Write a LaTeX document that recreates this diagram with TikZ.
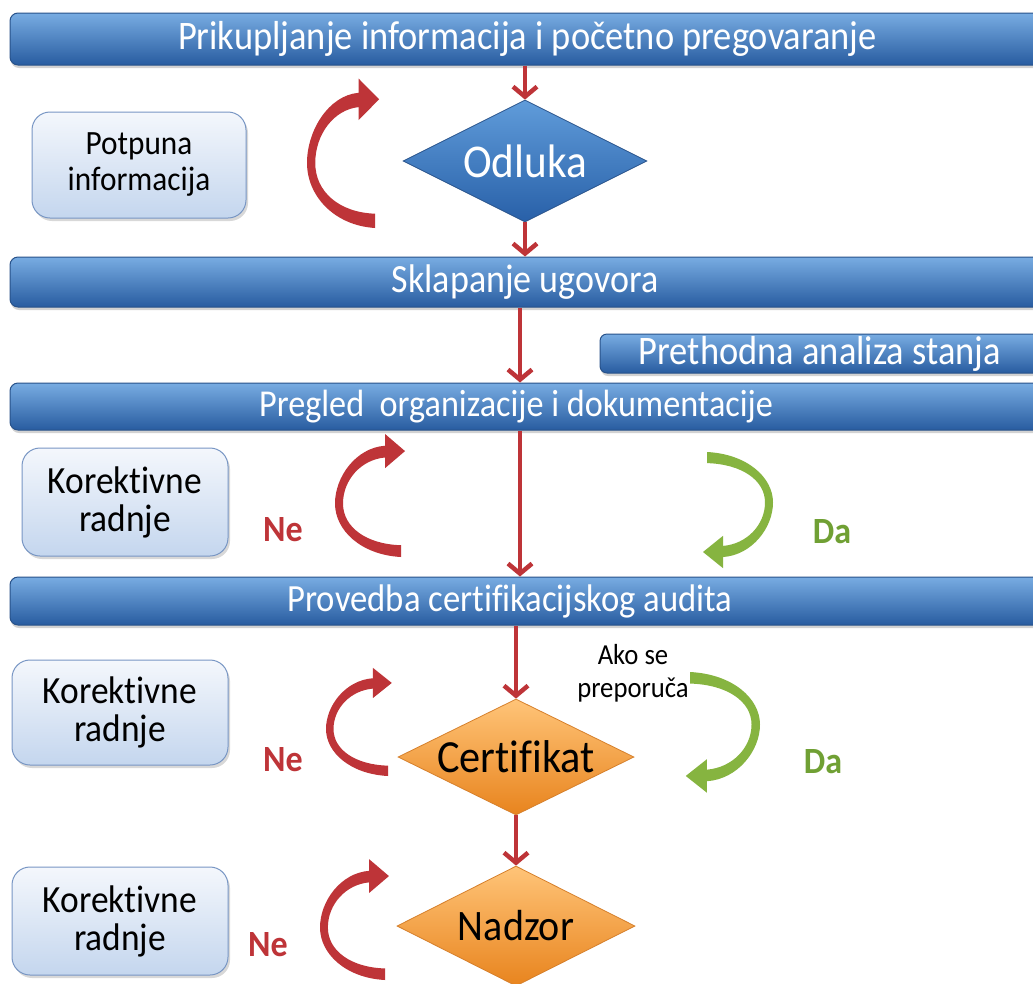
\documentclass[tikz,border=0pt]{standalone}
\usepackage{fontspec}
\setmainfont{Carlito}[Ligatures=NoCommon]
\newfontfamily\condfont[FakeStretch=0.9,Ligatures=NoCommon]{Carlito}
\newfontfamily\boxfont[FakeStretch=0.92,Ligatures=NoCommon]{Carlito}
\usetikzlibrary{shapes.geometric,arrows.meta,shadows}

\definecolor{barTop}{RGB}{120,172,226}
\definecolor{barMid}{RGB}{62,126,198}
\definecolor{barBot}{RGB}{40,92,160}
\definecolor{barEdge}{RGB}{40,82,138}
\definecolor{boxTop}{RGB}{244,247,252}
\definecolor{boxBot}{RGB}{196,214,238}
\definecolor{boxEdge}{RGB}{120,150,196}
\definecolor{diaBlueTop}{RGB}{96,156,218}
\definecolor{diaBlueBot}{RGB}{40,96,168}
\definecolor{oraTop}{RGB}{255,196,120}
\definecolor{oraMid}{RGB}{248,162,66}
\definecolor{oraBot}{RGB}{232,132,30}
\definecolor{oraEdge}{RGB}{214,128,44}
\definecolor{arrowRed}{RGB}{190,52,56}
\definecolor{arrowGreen}{RGB}{134,180,64}
\definecolor{labelGreen}{RGB}{112,160,52}

\tikzset{
  bar/.style={draw=barEdge, line width=1pt, rounded corners=8pt,
    top color=barTop, middle color=barMid, bottom color=barBot,
    minimum width=1035pt, inner sep=0pt,
    drop shadow={shadow xshift=1pt, shadow yshift=-3pt, opacity=0.35}},
  bartext/.style={text=white, font=\condfont\fontsize{#1}{44}\selectfont},
  lbox/.style={draw=boxEdge, line width=1pt, rounded corners=18pt,
    top color=boxTop, bottom color=boxBot, align=center, inner sep=0pt,
    font=\boxfont\fontsize{38.5}{38}\selectfont,
    drop shadow={shadow xshift=2pt, shadow yshift=-3pt, opacity=0.3}},
  diabase/.style={diamond, aspect=2, inner sep=-8pt, line width=0.8pt,
    font=\boxfont\fontsize{#1}{48}\selectfont},
  bluedia/.style={diabase=47, draw=barEdge,
    top color=diaBlueTop, bottom color=diaBlueBot, text=white},
  oradia/.style={diabase=#1, draw=oraEdge,
    top color=oraTop, middle color=oraMid, bottom color=oraBot, text=black},
  varrow/.style={draw=arrowRed, line width=4.5pt,
    -{Straight Barb[length=10pt,width=24pt]}},
  nelabel/.style={text=arrowRed, font=\bfseries\boxfont\fontsize{37}{40}\selectfont},
  dalabel/.style={text=labelGreen, font=\bfseries\boxfont\fontsize{37}{40}\selectfont},
  bend arrow/.pic={
    \path[pic actions] (0,0) .. controls (-40,-2) and (-66,-25) .. (-66,-50)
      .. controls (-66,-75) and (-45,-102) .. (-16,-104)
      -- (-16,-115) -- (4,-99) -- (-16,-83) -- (-16,-93)
      .. controls (-40,-91) and (-58,-72) .. (-58,-50)
      .. controls (-58,-28) and (-35,-12) .. (0,-11) -- cycle;
  }
}

\begin{document}
\begin{tikzpicture}[x=1pt,y=-1pt]
\useasboundingbox (0,0) rectangle (1033,983);
\fill[white] (0,0) rectangle (1033,983);
\clip (0,0) rectangle (1033,983);

% bars
\node[bar, minimum height=52pt,
  label={[bartext=40.5]center:Prikupljanje informacija i početno pregovaranje}]
  (b1) at (527.5,39) {};
\node[bar, minimum height=50pt,
  label={[bartext=40,xshift=-2.5pt]center:Sklapanje ugovora}]
  (b2) at (527.5,282) {};
\node[bar, minimum width=440pt, minimum height=39pt, rounded corners=7pt]
  (pa) at (820,353.5) {};
\node[bartext=40.5] (patext) at (820,353.5) {Prethodna analiza stanja};
\node[bar, minimum height=47pt,
  label={[bartext=38,xshift=-11.5pt]center:Pregled~~organizacije i dokumentacije}]
  (b3) at (527.5,406.5) {};
\node[bar, minimum height=48pt,
  label={[bartext=38.5,xshift=-17.5pt]center:Provedba certifikacijskog audita}]
  (b4) at (527.5,601) {};

% left boxes
\node[lbox, minimum width=214pt, minimum height=106pt,
  font=\boxfont\fontsize{34}{36}\selectfont] (k0) at (139,165) {Potpuna\\informacija};
\node[lbox, minimum width=206pt, minimum height=108pt] (k1) at (125,502) {Korektivne\\radnje};
\node[lbox, minimum width=216pt, minimum height=105pt] (k2) at (120,712.5) {Korektivne\\radnje};
\node[lbox, minimum width=216pt, minimum height=108pt] (k3) at (120,921) {Korektivne\\radnje};

% diamonds
\node[bluedia, minimum width=244pt, minimum height=122pt] (odl) at (525,161) {Odluka};
\node[oradia=46, minimum width=236pt, minimum height=116pt] (cert) at (516,757) {Certifikat};
\node[oradia=43.5, minimum width=238pt, minimum height=120pt] (nad) at (516,926) {Nadzor};

% vertical arrows
\draw[varrow] (b1.south -| odl.north) -- (odl.north);
\draw[varrow] (odl.south) -- (odl.south |- b2.north);
\draw[varrow] ([xshift=-7.5pt]b2.south) -- ([xshift=-7.5pt]b3.north);
\draw[varrow] ([xshift=-7.5pt]b3.south) -- ([xshift=-7.5pt]b4.north);
\draw[varrow] (b4.south -| cert.north) -- (cert.north);
\draw[varrow] (cert.south) -- (nad.north);

% curved arrows
\pic[fill=arrowRed, xscale=68/66, yscale=1.3] at (375,228) {bend arrow};
\pic[fill=arrowRed, yscale=1.07] at (401,557) {bend arrow};
\pic[fill=arrowRed, xscale=62/66, yscale=0.94] at (388,776) {bend arrow};
\pic[fill=arrowRed, xscale=65/66, yscale=1.05] at (385,980) {bend arrow};
\pic[fill=arrowGreen, rotate=180, yscale=1.01] at (707,452) {bend arrow};
\pic[fill=arrowGreen, rotate=180, xscale=70/66, yscale=1.05] at (690,672) {bend arrow};

% labels
\node[nelabel] (ne1) at (283,530) {Ne};
\node[nelabel] (ne2) at (283,760) {Ne};
\node[nelabel] (ne3) at (268,945) {Ne};
\node[dalabel] (da1) at (832,532) {Da};
\node[dalabel] (da2) at (823,762) {Da};
\node[align=center, font=\boxfont\fontsize{29}{33}\selectfont] (ako) at (633,673) {Ako se\\preporuča};
\end{tikzpicture}
\end{document}
